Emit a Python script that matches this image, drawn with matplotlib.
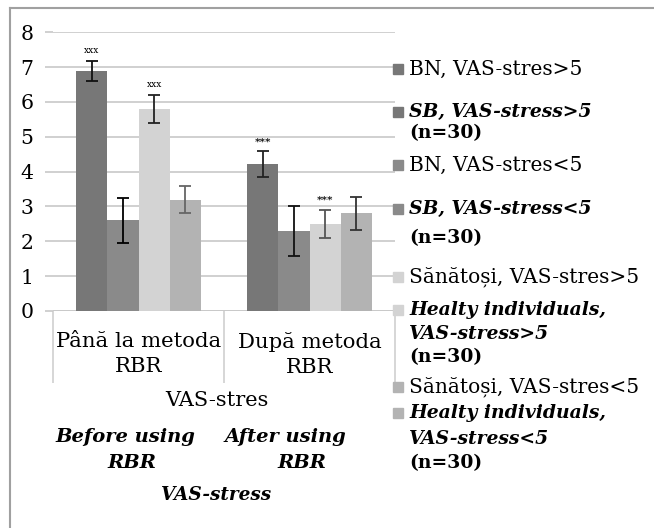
import numpy as np
import matplotlib.pyplot as plt
from matplotlib.patches import Rectangle
from matplotlib.lines import Line2D

plt.rcParams['font.family'] = ['DejaVu Serif']

# data
groups = ['Până la metoda\nRBR', 'După metoda\nRBR']
series_names = ['BN, VAS-stres>5', 'BN, VAS-stres<5',
                'Sănătoși, VAS-stres>5', 'Sănătoși, VAS-stres<5']
means = [[6.9, 4.22],
         [2.6, 2.3],
         [5.8, 2.5],
         [3.2, 2.8]]
errors = [[0.29, 0.36],
          [0.65, 0.72],
          [0.41, 0.40],
          [0.39, 0.48]]
marks = [['xxx', '***'], ['', ''], ['xxx', '***'], ['', '']]
bar_colors = ['#777777', '#8a8a8a', '#d3d3d3', '#b3b3b3']
err_colors = [['#111111', '#222222'], ['#000000', '#111111'],
              ['#222222', '#555555'], ['#666666', '#333333']]

# legend entries: (line text, style) lists, colour per entry
legend_entries = [
    [('BN, VAS-stres>5', 'regular')],
    [('SB, VAS-stress>5', 'bolditalic'), ('(n=30)', 'bold')],
    [('BN, VAS-stres<5', 'regular')],
    [('SB, VAS-stress<5', 'bolditalic'), ('(n=30)', 'bold')],
    [('Sănătoși, VAS-stres>5', 'regular')],
    [('Healty individuals,', 'bolditalic'), ('VAS-stress>5', 'bolditalic'),
     ('(n=30)', 'bold')],
    [('Sănătoși, VAS-stres<5', 'regular')],
    [('Healty individuals,', 'bolditalic'), ('VAS-stress<5', 'bolditalic'),
     ('(n=30)', 'bold')],
]
legend_colors = ['#777777', '#777777', '#8a8a8a', '#8a8a8a',
                 '#d3d3d3', '#d3d3d3', '#b3b3b3', '#b3b3b3']
legend_line_y = [[69], [112, 133], [165], [209, 238], [277],
                 [310, 334, 357], [387], [413, 439, 463]]

W, H = 654, 528
fig = plt.figure(figsize=(W / 100, H / 100), dpi=100)
ax = fig.add_axes([53 / W, 1 - 311 / H, (395 - 53) / W, (311 - 32.3) / H])

x = np.arange(len(groups))
w = 0.183
for i in range(4):
    xs = x + (i - 1.5) * w
    ax.bar(xs, means[i], width=w, color=bar_colors[i], zorder=2)
    for j in range(len(groups)):
        ax.errorbar(xs[j], means[i][j], yerr=errors[i][j], fmt='none',
                    ecolor=err_colors[i][j], elinewidth=1.3, capsize=4,
                    capthick=1.3, zorder=3)
        if marks[i][j]:
            ax.annotate(marks[i][j], (xs[j], means[i][j] + errors[i][j]),
                        xytext=(0, 7), textcoords='offset points',
                        ha='center', va='center',
                        fontsize=6.5 if marks[i][j] == 'xxx' else 7.5,
                        fontweight='bold' if marks[i][j] == '***' else 'normal')

ax.set_xlim(-0.5, 1.5)
ax.set_ylim(0, 8)
ax.set_yticks(range(9))
ax.yaxis.grid(True, color='#c8c8c8', linewidth=1.2, zorder=0)
ax.set_axisbelow(True)
for s in ax.spines.values():
    s.set_visible(False)
ax.tick_params(axis='y', length=6, color='#c8c8c8', width=1.2,
               labelsize=14.7, pad=8)
ax.set_xticks(x)
ax.set_xticklabels(groups, fontsize=15.3, linespacing=1.4)
ax.tick_params(axis='x', which='major', length=0, pad=15)
ax.set_xticks([-0.5, 0.5, 1.5], minor=True)
ax.tick_params(axis='x', which='minor', length=52, color='#d0d0d0', width=1.2)
ax.axhline(0, color='#c8c8c8', linewidth=1.2, zorder=1)

# axis titles under the chart
fig.text(217 / W, 1 - 400 / H, 'VAS-stres', ha='center', va='center',
         fontsize=15)
for txt, xc, yc in [('Before using', 125, 437), ('RBR', 132, 463),
                    ('After using', 285, 437), ('RBR', 302, 463),
                    ('VAS-stress', 216, 495)]:
    fig.text(xc / W, 1 - yc / H, txt, ha='center', va='center',
             fontsize=14 if txt != 'VAS-stress' else 13.3,
             style='italic', weight='bold')

# legend
styles = {'regular': dict(), 'bold': dict(weight='bold'),
          'bolditalic': dict(weight='bold', style='italic')}
for entry, col, ys in zip(legend_entries, legend_colors, legend_line_y):
    fig.patches.append(Rectangle((393 / W, 1 - (ys[0] + 5) / H), 10 / W,
                                 10 / H, transform=fig.transFigure,
                                 color=col, figure=fig))
    for (ln, st), yy in zip(entry, ys):
        fig.text(409 / W, 1 - yy / H, ln, ha='left', va='center',
                 fontsize=14.5 if st == 'regular' else 13.5, **styles[st])

# outer frame
fig.lines.append(Line2D([10 / W, 10 / W], [0, 1 - 8 / H],
                        transform=fig.transFigure, color='#a0a0a0', lw=1.5))
fig.lines.append(Line2D([10 / W, 1], [1 - 8 / H, 1 - 8 / H],
                        transform=fig.transFigure, color='#a0a0a0', lw=1.5))

fig.savefig('out.png', dpi=100)
